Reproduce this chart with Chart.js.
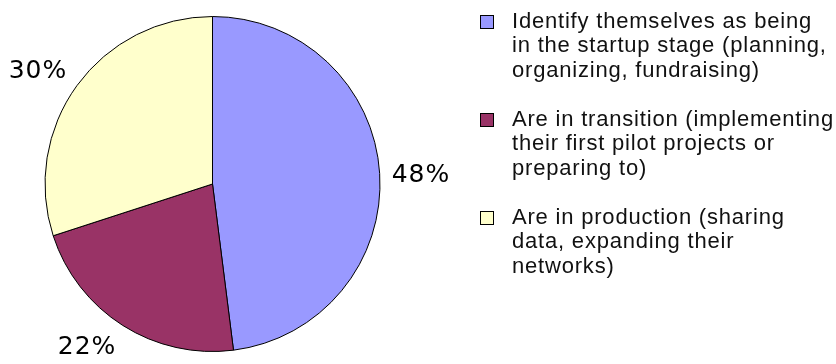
<!DOCTYPE html>
<html><head><meta charset="utf-8">
<script src="https://cdn.jsdelivr.net/npm/chart.js@4/dist/chart.umd.min.js"></script>
<style>html,body{margin:0;padding:0;background:#fff;overflow:hidden}#wrap{position:relative;width:836px;height:364px}</style>
</head><body><div id="wrap"><canvas id="c" width="836" height="364"></canvas></div>
<script>
const categories = [
  "Identify themselves as being in the startup stage (planning, organizing, fundraising)",
  "Are in transition (implementing their first pilot projects or preparing to)",
  "Are in production (sharing data, expanding their networks)"
];
const legendLines = [
  ["Identify themselves as being", "in the startup stage (planning,", "organizing, fundraising)"],
  ["Are in transition (implementing", "their first pilot projects or", "preparing to)"],
  ["Are in production (sharing", "data, expanding their", "networks)"]
];
const values = [48, 22, 30];
const percentLabels = ["48%", "22%", "30%"];

const sliceColors = ["#9999FF", "#993366", "#FFFFCC"];

const pctPlugin = {
  id: 'pct',
  afterDatasetsDraw(chart) {
    const ctx = chart.ctx;
    const meta = chart.getDatasetMeta(0);
    ctx.save();
    ctx.font = "25px 'DejaVu Sans'";
    ctx.letterSpacing = "1px";
    ctx.fillStyle = "#000";
    ctx.textAlign = "left";
    ctx.textBaseline = "alphabetic";
    const capH = 0.73 * 25;
    meta.data.forEach((arc, i) => {
      const p = arc.getProps(['x', 'y', 'startAngle', 'endAngle', 'outerRadius'], true);
      const mid = (p.startAngle + p.endAngle) / 2;
      const r = p.outerRadius + 12;
      const ax = p.x + Math.cos(mid) * r;
      const ay = p.y + Math.sin(mid) * r;
      const c = Math.cos(mid), s = Math.sin(mid);
      const w = ctx.measureText(percentLabels[i]).width;
      let left, top;
      if (c > 0.3) left = ax; else if (c < -0.3) left = ax - w; else left = ax - w / 2;
      if (s > 0.3) top = ay; else if (s < -0.3) top = ay - capH; else top = ay - capH / 2;
      ctx.fillText(percentLabels[i], left, top + capH);
    });
    ctx.restore();
  }
};

const legendPlugin = {
  id: 'sideLegend',
  afterDraw(chart) {
    const ctx = chart.ctx;
    const ds = chart.data.datasets[0];
    ctx.save();
    ctx.font = "22px 'Liberation Sans'";
    ctx.letterSpacing = "0.8px";
    ctx.fillStyle = "#111";
    ctx.textAlign = "left";
    ctx.textBaseline = "alphabetic";
    const lineH = 24.5, y0 = 20, capH = 0.716 * 22;
    let row = 0;
    chart.data.labels.forEach((lab, i) => {
      const lines = legendLines[i];
      const cy = y0 + row * lineH;
      ctx.fillStyle = ds.backgroundColor[i];
      ctx.fillRect(480.5, cy - 4.5, 13, 13);
      ctx.strokeStyle = "#000";
      ctx.lineWidth = 1;
      ctx.strokeRect(480.5, cy - 4.5, 13, 13);
      ctx.fillStyle = "#111";
      lines.forEach((ln, j) => {
        ctx.fillText(ln, 512, y0 + (row + j) * lineH + capH / 2);
      });
      row += lines.length + 1;
    });
    ctx.restore();
  }
};

new Chart(document.getElementById('c'), {
  type: 'pie',
  data: {
    labels: categories,
    datasets: [{
      data: values,
      backgroundColor: sliceColors,
      borderColor: "#000",
      borderWidth: 1,
      radius: 167.5
    }]
  },
  options: {
    responsive: false,
    devicePixelRatio: 1,
    animation: false,
    radius: 167.5,
    layout: { padding: { left: 0, top: 4, right: 411, bottom: 0 } },
    plugins: { legend: { display: false }, tooltip: { enabled: false } }
  },
  plugins: [pctPlugin, legendPlugin]
});
</script>
</body></html>
